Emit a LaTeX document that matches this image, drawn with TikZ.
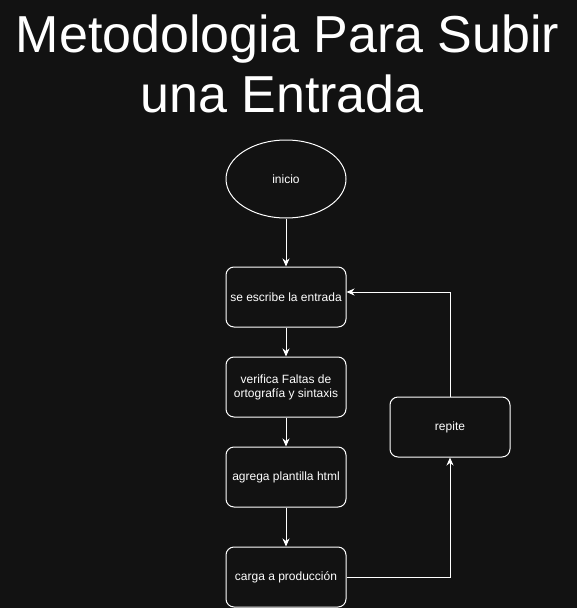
\documentclass[tikz,border=0pt]{standalone}
\usepackage{fontspec}
\setmainfont{Liberation Sans}
\usetikzlibrary{shapes.geometric,arrows.meta}
\definecolor{bgdark}{RGB}{18,18,18}
\tikzset{
  stepbox/.style={draw=white, line width=1pt, rounded corners=8pt, minimum width=120pt, minimum height=60pt, inner sep=0pt, text=white, align=center, font=\fontsize{12pt}{14pt}\selectfont},
  startnode/.style={draw=white, line width=1pt, ellipse, minimum width=120pt, minimum height=78pt, inner sep=0pt, text=white, font=\fontsize{12pt}{14pt}\selectfont},
  conn/.style={draw=white, line width=1pt, -{Stealth[length=8pt,width=7pt,inset=2.5pt]}},
  titletext/.style={text=white, font=\fontsize{52pt}{60pt}\selectfont, inner sep=0pt, anchor=base}
}
\begin{document}
\begin{tikzpicture}[x=1pt,y=-1pt]
\fill[bgdark] (0,0) rectangle (577,608);
\useasboundingbox (0,0) rectangle (577,608);
\node[titletext] (title1) at (287.5,52) {Metodologia Para Subir};
\node[titletext] (title2) at (282,112) {una Entrada};
\node[startnode] (inicio) at (286,179) {inicio};
\node[stepbox] (escribe) at (286,297) {se escribe la entrada};
\node[stepbox] (verifica) at (286,387) {verifica Faltas de\\ortografía y sintaxis};
\node[stepbox] (plantilla) at (286,477) {agrega plantilla html};
\node[stepbox] (carga) at (286,577) {carga a producción};
\node[stepbox] (repite) at (450,427) {repite};
\coordinate (loopturn) at (450,292);
\draw[conn] (inicio) -- (escribe);
\draw[conn] (escribe) -- (verifica);
\draw[conn] (verifica) -- (plantilla);
\draw[conn] (plantilla) -- (carga);
\draw[conn] (carga.east) -| (repite.south);
\draw[conn] (repite.north) |- (loopturn) -- (escribe.east |- loopturn);
\end{tikzpicture}
\end{document}
